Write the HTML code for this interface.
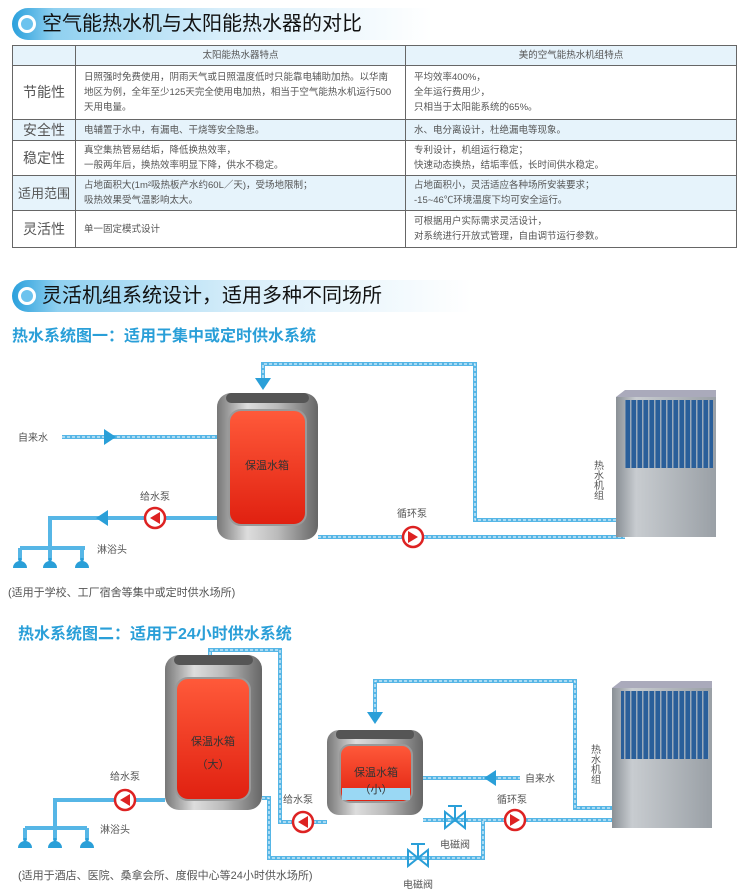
<!DOCTYPE html>
<html><head><meta charset="utf-8"><style>
body{margin:0;background:#fff;font-family:"Liberation Sans","Noto Sans CJK SC",sans-serif;}
#w{position:relative;width:750px;height:896px;overflow:hidden;}
table{position:absolute;left:12px;top:45px;width:725px;border-collapse:collapse;font-size:9.5px;color:#555;}
td{border:1px solid #666;padding:2px 8px;line-height:15px;vertical-align:middle}
td.h{font-size:14px;text-align:center;padding:0;color:#555}
tr.b td{background:#e6f3fb}
.hd{position:absolute;left:12px;height:32px;width:420px;border-radius:16px 0 0 16px;background:linear-gradient(90deg,#2aa0dc 0%,#8fd0f0 10%,#d8eefa 50%,#fff 100%);font-size:20px;color:#111;line-height:32px;padding-left:30px;box-sizing:border-box}
.hd:before{content:"";position:absolute;left:6px;top:7px;width:12px;height:12px;border-radius:50%;border:3px solid #fff;background:#6cc3ee}
</style></head><body><div id="w">
<div class="hd" style="top:8px">空气能热水机与太阳能热水器的对比</div>
<table>
<tr class="b" style="height:18px"><td style="width:46px"></td><td style="text-align:center;width:313px">太阳能热水器特点</td><td style="text-align:center">美的空气能热水机组特点</td></tr>
<tr style="height:54px"><td class="h">节能性</td><td>日照强时免费使用，阴雨天气或日照温度低时只能靠电辅助加热。以华南地区为例，全年至少125天完全使用电加热，相当于空气能热水机运行500天用电量。</td><td>平均效率400%，<br>全年运行费用少，<br>只相当于太阳能系统的65%。</td></tr>
<tr class="b" style="height:21px"><td class="h">安全性</td><td>电辅置于水中，有漏电、干烧等安全隐患。</td><td>水、电分离设计，杜绝漏电等现象。</td></tr>
<tr style="height:34px"><td class="h">稳定性</td><td>真空集热管易结垢，降低换热效率，<br>一般两年后，换热效率明显下降，供水不稳定。</td><td>专利设计，机组运行稳定；<br>快速动态换热，结垢率低，长时间供水稳定。</td></tr>
<tr class="b" style="height:34px"><td class="h" style="font-size:13px">适用范围</td><td>占地面积大(1m²吸热板产水约60L／天)，受场地限制；<br>吸热效果受气温影响太大。</td><td>占地面积小，灵活适应各种场所安装要求；<br>-15~46℃环境温度下均可安全运行。</td></tr>
<tr style="height:37px"><td class="h">灵活性</td><td>单一固定模式设计</td><td>可根据用户实际需求灵活设计，<br>对系统进行开放式管理，自由调节运行参数。</td></tr>
</table>
<div class="hd" style="top:280px;width:460px">灵活机组系统设计，适用多种不同场所</div>
<div style="position:absolute;left:12px;top:322px;font-size:16px;font-weight:bold;color:#2a9fd8">热水系统图一：适用于集中或定时供水系统</div>
<div style="position:absolute;left:18px;top:620px;font-size:16px;font-weight:bold;color:#2a9fd8">热水系统图二：适用于24小时供水系统</div>
<svg width="750" height="896" style="position:absolute;left:0;top:0" font-family="Liberation Sans,Noto Sans CJK SC,sans-serif">
<defs>
<linearGradient id="st" x1="0" x2="1"><stop offset="0" stop-color="#777"/><stop offset=".3" stop-color="#ddd"/><stop offset=".6" stop-color="#bbb"/><stop offset="1" stop-color="#666"/></linearGradient>
<linearGradient id="rd" x1="0" y1="0" x2="0" y2="1"><stop offset="0" stop-color="#ff5a3a"/><stop offset="1" stop-color="#e02010"/></linearGradient>
<linearGradient id="un" x1="0" x2="1"><stop offset="0" stop-color="#8a9096"/><stop offset=".2" stop-color="#c8ccd0"/><stop offset="1" stop-color="#9aa0a6"/></linearGradient>
<pattern id="fin" width="6" height="10" patternUnits="userSpaceOnUse"><rect width="6" height="10" fill="#2a5f9a"/><rect width="1.5" height="10" fill="#9ab"/></pattern>
<g id="pump"><circle r="10" fill="#fff" stroke="#d22" stroke-width="2.5"/></g>
<g id="sh"><path d="M-7,6 A7,7 0 0 1 7,6 Z" fill="#2a9fd8"/><rect x="-1.5" y="-4" width="3" height="5" fill="#2a9fd8"/></g>
</defs>
<g fill="none" stroke="#56b6e6" stroke-width="4">
<path d="M263,378 V364 H475 V520 H620"/>
<path d="M318,537 H625"/>
<path d="M62,437 H217"/>
<path d="M217,518 H50 V548 M20,548 H85 M20,548 V560 M50,548 V560 M82,548 V560"/>
<path d="M210,665 V650 H280 V822 H327"/>
<path d="M262,798 H269 V858 H483 V820"/>
<path d="M375,712 V681 H575 V808 H612"/>
<path d="M423,820 H620"/>
<path d="M423,778 H520"/>
<path d="M165,800 H55 V828 M25,828 H87 M25,828 V840 M55,828 V840 M87,828 V840"/>
</g>
<g fill="none" stroke="#fff" stroke-width="1" stroke-dasharray="3 2">
<path d="M263,378 V364 H475 V520 H620"/><path d="M318,537 H625"/><path d="M62,437 H217"/>
<path d="M210,665 V650 H280 V822 H327"/><path d="M262,798 H269 V858 H483 V820"/><path d="M375,712 V681 H575 V808 H612"/><path d="M423,820 H620"/><path d="M423,778 H520"/>
</g>
<g fill="#2a9fd8"><path d="M255,378 H271 L263,390Z"/><path d="M104,429 V445 L116,437Z"/><path d="M108,510 V526 L96,518Z"/><path d="M202,665 H218 L210,677Z"/><path d="M367,712 H383 L375,724Z"/><path d="M496,770 V786 L484,778Z"/></g>
<rect x="217" y="393" width="101" height="147" rx="14" fill="url(#st)"/><rect x="226" y="393" width="83" height="10" rx="5" fill="#555"/>
<rect x="229" y="410" width="77" height="115" rx="12" fill="url(#rd)" stroke="#999" stroke-width="2"/>
<rect x="165" y="655" width="97" height="155" rx="14" fill="url(#st)"/><rect x="174" y="655" width="79" height="10" rx="5" fill="#555"/>
<rect x="176" y="678" width="74" height="122" rx="12" fill="url(#rd)" stroke="#999" stroke-width="2"/>
<rect x="327" y="730" width="96" height="85" rx="12" fill="url(#st)"/><rect x="336" y="730" width="78" height="9" rx="4" fill="#555"/>
<rect x="340" y="745" width="72" height="57" rx="10" fill="url(#rd)" stroke="#999" stroke-width="2"/><rect x="342" y="788" width="68" height="12" fill="#9ad8f4"/>
<g><rect x="616" y="397" width="100" height="140" fill="url(#un)"/><rect x="625" y="400" width="88" height="68" fill="url(#fin)"/><path d="M616,397 L625,390 H716 V397Z" fill="#aab"/></g>
<g><rect x="612" y="688" width="100" height="140" fill="url(#un)"/><rect x="621" y="691" width="88" height="68" fill="url(#fin)"/><path d="M612,688 L621,681 H712 V688Z" fill="#aab"/></g>
<use href="#pump" x="155" y="518"/><path d="M160,512 V524 L150,518Z" fill="#d22"/>
<use href="#pump" x="413" y="537"/><path d="M408,531 V543 L418,537Z" fill="#d22"/>
<use href="#pump" x="125" y="800"/><path d="M130,794 V806 L120,800Z" fill="#d22"/>
<use href="#pump" x="303" y="822"/><path d="M308,816 V828 L298,822Z" fill="#d22"/>
<use href="#pump" x="515" y="820"/><path d="M510,814 V826 L520,820Z" fill="#d22"/>
<g fill="#2a9fd8" stroke="#2a9fd8" stroke-width="2"><path d="M445,812 V828 L465,812 V828Z" fill="none"/><path d="M455,820 V806 M448,806 H462"/>
<path d="M408,850 V866 L428,850 V866Z" fill="none"/><path d="M418,858 V844 M411,844 H425"/></g>
<use href="#sh" x="20" y="562"/><use href="#sh" x="50" y="562"/><use href="#sh" x="82" y="562"/>
<use href="#sh" x="25" y="842"/><use href="#sh" x="55" y="842"/><use href="#sh" x="87" y="842"/>
<g font-size="10" fill="#555">
<text x="18" y="441">自来水</text><text x="140" y="500">给水泵</text><text x="397" y="517">循环泵</text><text x="97" y="553">淋浴头</text>
<text x="8" y="596" font-size="11">(适用于学校、工厂宿舍等集中或定时供水场所)</text>
<text x="110" y="780">给水泵</text><text x="283" y="803">给水泵</text><text x="497" y="803">循环泵</text><text x="100" y="833">淋浴头</text>
<text x="525" y="782">自来水</text><text x="440" y="848">电磁阀</text><text x="403" y="888">电磁阀</text>
<text x="18" y="879" font-size="11">(适用于酒店、医院、桑拿会所、度假中心等24小时供水场所)</text>
<text x="597" y="460" writing-mode="tb">热水机组</text><text x="594" y="744" writing-mode="tb">热水机组</text>
</g>
<g font-size="11" fill="#333" text-anchor="middle"><text x="267" y="469">保温水箱</text><text x="213" y="745">保温水箱</text><text x="213" y="768">（大）</text><text x="376" y="776">保温水箱</text><text x="376" y="793">（小）</text></g>
</svg>
</div></body></html>
